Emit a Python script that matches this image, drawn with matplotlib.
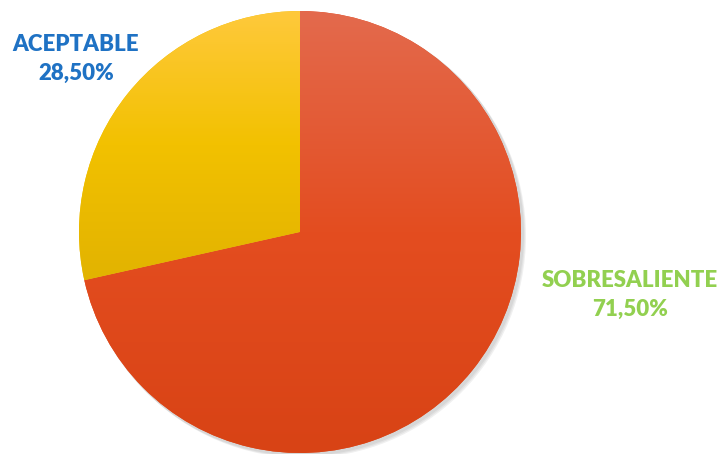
import matplotlib.pyplot as plt
import numpy as np
from matplotlib.colors import LinearSegmentedColormap

categorias = ["SOBRESALIENTE", "ACEPTABLE"]
valores = [71.5, 28.5]
etiquetas = ["71,50%", "28,50%"]

fig = plt.figure(figsize=(7.22, 4.54), dpi=100)
ax = fig.add_axes([0, 0, 1, 1])

cx, cy, r = 300, 222, 221

# sombra suave
for i, a in enumerate([0.05, 0.05, 0.06]):
    sh = plt.Circle((cx + 2 + i, cy - 2 - i), r + 1, color="black", alpha=a, lw=0)
    ax.add_patch(sh)

wedges, _ = ax.pie(valores, startangle=90, counterclock=False,
                   center=(cx, cy), radius=r, frame=True,
                   colors=["#E44D20", "#F2C000"],
                   wedgeprops=dict(linewidth=0))
ax.set_xlim(0, 722)
ax.set_ylim(0, 454)
ax.set_aspect("equal")
ax.axis("off")

gradientes = [["#D84315", "#E44D20", "#E36A4D"],
              ["#E2B300", "#F2C100", "#FFC93C"]]
grad = np.linspace(0, 1, 256).reshape(-1, 1)
for w, cols in zip(wedges, gradientes):
    cmap = LinearSegmentedColormap.from_list("g", cols)
    ext = w.get_path().get_extents(w.get_patch_transform())
    bb = w.get_window_extent().transformed(ax.transData.inverted())
    im = ax.imshow(grad, cmap=cmap, aspect="auto", origin="lower",
                   extent=(bb.x0, bb.x1, bb.y0, bb.y1), zorder=2)
    im.set_clip_path(w)
ax.set_xlim(0, 722)
ax.set_ylim(0, 454)

for cat, et, x, y, col in [(categorias[1], etiquetas[1], 76, 395, "#1F72C4"),
                           (categorias[0], etiquetas[0], 630, 159, "#92D050")]:
    ax.text(x, y, cat + "\n" + et, color=col, fontsize=16,
            fontweight=800, family="Lato", ha="center", va="center",
            linespacing=1.5)

plt.savefig("out.png", dpi=100)
